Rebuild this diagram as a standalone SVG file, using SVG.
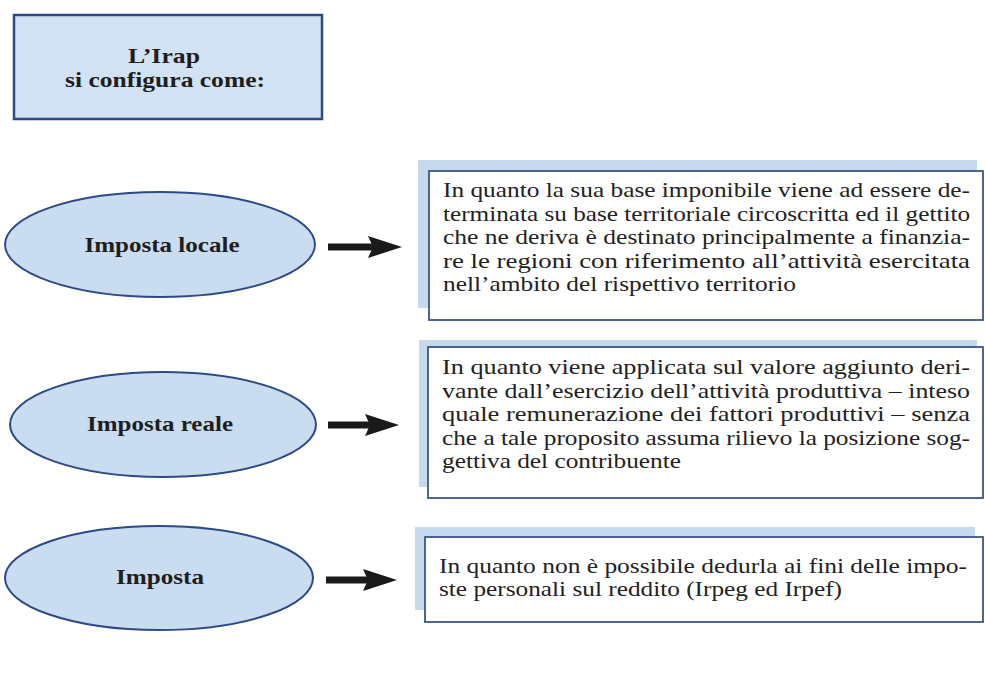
<svg xmlns="http://www.w3.org/2000/svg" width="985" height="673" viewBox="0 0 985 673">
<style>
.bg{fill:#ffffff}
.title{fill:#d2e2f2;stroke:#2c4a86;stroke-width:2.5}
.oval{fill:#cadcef;stroke:#2c4a86;stroke-width:2}
.shadow{fill:#c6daee}
.box{fill:#ffffff;stroke:#3a5688;stroke-width:1.8}
.lbl{font-family:'Liberation Serif','Times New Roman',serif;font-weight:bold;font-size:22px;fill:#1e1e1e;text-anchor:middle}
.ttl{font-family:'Liberation Serif','Times New Roman',serif;font-weight:bold;font-size:21px;fill:#1e1e1e;text-anchor:middle}
.txt{font-family:'Liberation Serif','Times New Roman',serif;font-size:21px;fill:#222222}
.conn{stroke:#1a1a1a;stroke-width:7;fill:none}
</style>
<defs>
<marker id="ah" viewBox="0 0 34 22" refX="7" refY="11" markerWidth="34" markerHeight="22" markerUnits="userSpaceOnUse" orient="auto">
<path d="M0,0 L34,11 L0,22 L5,11 Z" fill="#1a1a1a"/>
</marker>
</defs>
<rect class="bg" x="0" y="0" width="985" height="673"/>

<g id="title">
<rect class="title" x="14" y="15" width="308" height="104"/>
<text class="ttl" x="164" y="63" textLength="72" lengthAdjust="spacingAndGlyphs">L’Irap</text>
<text class="ttl" x="165" y="87" textLength="200" lengthAdjust="spacingAndGlyphs">si configura come:</text>
</g>

<g id="node-locale">
<ellipse class="oval" cx="160" cy="244.5" rx="155" ry="52.5"/>
<text class="lbl" x="162" y="252" textLength="155" lengthAdjust="spacingAndGlyphs">Imposta locale</text>
</g>

<g id="node-reale">
<ellipse class="oval" cx="163" cy="424.5" rx="153" ry="52.5"/>
<text class="lbl" x="160" y="431" textLength="146" lengthAdjust="spacingAndGlyphs">Imposta reale</text>
</g>

<g id="node-imposta">
<ellipse class="oval" cx="159" cy="578" rx="154" ry="52"/>
<text class="lbl" x="160" y="584" textLength="88" lengthAdjust="spacingAndGlyphs">Imposta</text>
</g>

<g id="desc-locale">
<rect class="shadow" x="418" y="160" width="559" height="148"/>
<rect class="box" x="429" y="171" width="554" height="149"/>
<text class="txt" x="443" y="197" textLength="527" lengthAdjust="spacingAndGlyphs">In quanto la sua base imponibile viene ad essere de-</text>
<text class="txt" x="443" y="220.5" textLength="527" lengthAdjust="spacingAndGlyphs">terminata su base territoriale circoscritta ed il gettito</text>
<text class="txt" x="443" y="244" textLength="527" lengthAdjust="spacingAndGlyphs">che ne deriva è destinato principalmente a finanzia-</text>
<text class="txt" x="443" y="267.5" textLength="527" lengthAdjust="spacingAndGlyphs">re le regioni con riferimento all’attività esercitata</text>
<text class="txt" x="443" y="291" textLength="353" lengthAdjust="spacingAndGlyphs">nell’ambito del rispettivo territorio</text>
</g>

<g id="desc-reale">
<rect class="shadow" x="419" y="340" width="558" height="147"/>
<rect class="box" x="428" y="347" width="555" height="151"/>
<text class="txt" x="442" y="374" textLength="528" lengthAdjust="spacingAndGlyphs">In quanto viene applicata sul valore aggiunto deri-</text>
<text class="txt" x="442" y="397.5" textLength="528" lengthAdjust="spacingAndGlyphs">vante dall’esercizio dell’attività produttiva – inteso</text>
<text class="txt" x="442" y="421" textLength="528" lengthAdjust="spacingAndGlyphs">quale remunerazione dei fattori produttivi – senza</text>
<text class="txt" x="442" y="444.5" textLength="528" lengthAdjust="spacingAndGlyphs">che a tale proposito assuma rilievo la posizione sog-</text>
<text class="txt" x="442" y="468" textLength="239" lengthAdjust="spacingAndGlyphs">gettiva del contribuente</text>
</g>

<g id="desc-imposta">
<rect class="shadow" x="415" y="527" width="560" height="83"/>
<rect class="box" x="425" y="537" width="558" height="85"/>
<text class="txt" x="439" y="573" textLength="528" lengthAdjust="spacingAndGlyphs">In quanto non è possibile dedurla ai fini delle impo-</text>
<text class="txt" x="439" y="596" textLength="403" lengthAdjust="spacingAndGlyphs">ste personali sul reddito (Irpeg ed Irpef)</text>
</g>

<g id="connectors">
<line class="conn" x1="328" y1="247" x2="375" y2="247" marker-end="url(#ah)"/>
<line class="conn" x1="328" y1="425" x2="372" y2="425" marker-end="url(#ah)"/>
<line class="conn" x1="326" y1="580" x2="370" y2="580" marker-end="url(#ah)"/>
</g>
</svg>
